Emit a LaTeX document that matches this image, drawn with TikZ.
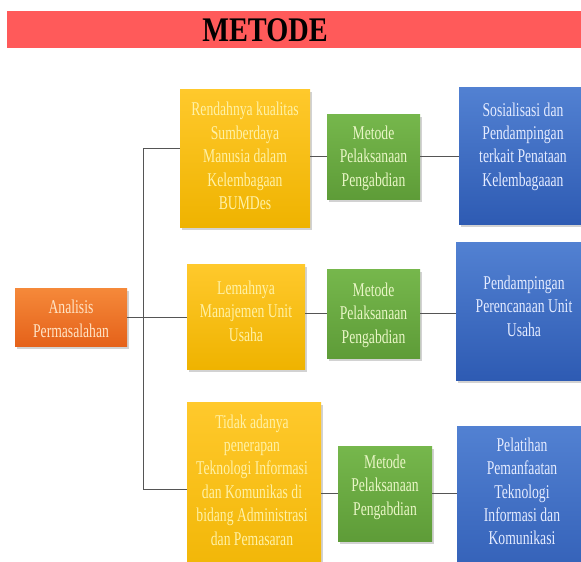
\documentclass[tikz,border=0pt]{standalone}
\usepackage{fontspec}
\setmainfont{Liberation Serif}
\newfontfamily\cond[FakeStretch=0.7]{Liberation Serif}
\newfontfamily\condb[FakeStretch=0.82]{Liberation Serif Bold}
\usetikzlibrary{shadows}
\definecolor{titlered}{HTML}{FF5A5A}
\definecolor{orT}{HTML}{F5893A}
\definecolor{orB}{HTML}{E5621A}
\definecolor{yeT}{HTML}{FFC92C}
\definecolor{yeB}{HTML}{EFB300}
\definecolor{grT}{HTML}{76B74C}
\definecolor{grB}{HTML}{5E9C38}
\definecolor{blT}{HTML}{5281D2}
\definecolor{blB}{HTML}{2E5BB3}
\definecolor{orTx}{HTML}{FFE4C6}
\definecolor{yeTx}{HTML}{FFF1A6}
\definecolor{grTx}{HTML}{E9F6C6}
\definecolor{blTx}{HTML}{E4EBFF}
\definecolor{linec}{HTML}{555555}
\tikzset{
  boxbase/.style={draw=none, inner sep=0pt, rectangle,
    drop shadow={shadow xshift=1.5pt, shadow yshift=-2.5pt, opacity=0.35}},
  orbox/.style={boxbase, top color=orT, bottom color=orB},
  yebox/.style={boxbase, top color=yeT, bottom color=yeB},
  grbox/.style={boxbase, top color=grT, bottom color=grB},
  blbox/.style={boxbase, top color=blT, bottom color=blB},
  txt/.style={align=center, inner sep=0pt, font=\cond\fontsize{19.5}{23.4}\selectfont},
  conn/.style={draw=linec, line width=1pt}
}
\begin{document}
\begin{tikzpicture}[x=1pt, y=-1pt]
\clip (0,0) rectangle (581,562);
\fill[white] (0,0) rectangle (581,562);
% title
\fill[titlered] (7,11) rectangle (581,48);
\node[inner sep=0pt, font=\condb\fontsize{34.5}{36}\selectfont] (title) at (265,30.5) {METODE};
% boxes
\node[orbox, minimum width=112pt, minimum height=58pt] (o) at (71,317) {};
\node[yebox, minimum width=130pt, minimum height=138pt] (y1) at (245,158) {};
\node[yebox, minimum width=118pt, minimum height=105pt] (y2) at (246,316.5) {};
\node[yebox, minimum width=134pt, minimum height=198pt] (y3) at (254,501) {};
\node[grbox, minimum width=93pt, minimum height=85pt] (g1) at (373.5,156.5) {};
\node[grbox, minimum width=93pt, minimum height=89pt] (g2) at (373.5,313.5) {};
\node[grbox, minimum width=94pt, minimum height=95pt] (g3) at (385,493.5) {};
\node[blbox, minimum width=131pt, minimum height=137pt] (b1) at (524.5,155.5) {};
\node[blbox, minimum width=134pt, minimum height=138pt] (b2) at (523,311) {};
\node[blbox, minimum width=133pt, minimum height=174pt] (b3) at (523.5,513) {};
% texts
\node[txt, text=orTx] (ot) at (71,319) {Analisis\\Permasalahan};
\node[txt, text=yeTx] (y1t) at (245,156) {Rendahnya kualitas\\Sumberdaya\\Manusia dalam\\Kelembagaan\\BUMDes};
\node[txt, text=yeTx] (y2t) at (246,311) {Lemahnya\\Manajemen Unit\\Usaha};
\node[txt, text=yeTx] (y3t) at (252,480) {Tidak adanya\\penerapan\\Teknologi Informasi\\dan Komunikas di\\bidang Administrasi\\dan Pemasaran};
\node[txt, text=grTx] (g1t) at (373.5,158) {Metode\\Pelaksanaan\\Pengabdian};
\node[txt, text=grTx] (g2t) at (373.5,315) {Metode\\Pelaksanaan\\Pengabdian};
\node[txt, text=grTx] (g3t) at (385,487) {Metode\\Pelaksanaan\\Pengabdian};
\node[txt, text=blTx] (b1t) at (523,146.5) {Sosialisasi dan\\Pendampingan\\terkait Penataan\\Kelembagaaan};
\node[txt, text=blTx] (b2t) at (524,306) {Pendampingan\\Perencanaan Unit\\Usaha};
\node[txt, text=blTx] (b3t) at (522,491.5) {Pelatihan\\Pemanfaatan\\Teknologi\\Informasi dan\\Komunikasi};
% connectors
\coordinate (t1) at (143,148);
\coordinate (t3) at (143,489);
\draw[conn] (t1) -- (t3);
\draw[conn] (t1) -- (t1 -| y1.west);
\draw[conn] (t3) -- (t3 -| y3.west);
\draw[conn] (o.east) -- (o.east -| y2.west);
\draw[conn] (g1.west -| y1.east) -- (g1.west);
\draw[conn] (g1.east) -- (g1.east -| b1.west);
\draw[conn] (g2.west -| y2.east) -- (g2.west);
\draw[conn] (g2.east) -- (g2.east -| b2.west);
\draw[conn] (g3.west -| y3.east) -- (g3.west);
\draw[conn] (g3.east) -- (g3.east -| b3.west);
\end{tikzpicture}
\end{document}
